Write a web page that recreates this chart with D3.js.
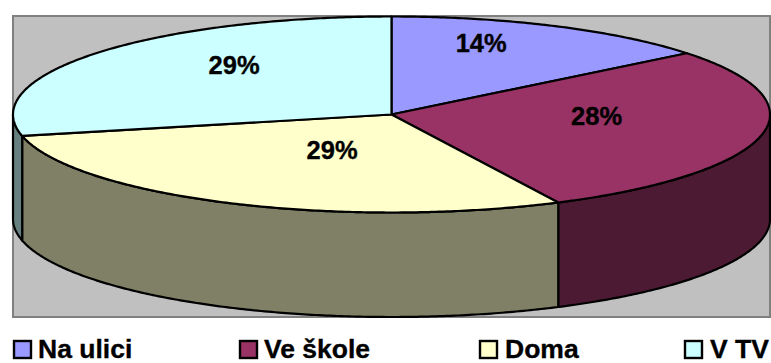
<!DOCTYPE html>
<html lang="en"><head>
<meta charset="utf-8">
<title>Pie</title>
<script src="https://cdnjs.cloudflare.com/ajax/libs/d3/7.8.5/d3.min.js"></script>
<style>
html,body{margin:0;padding:0;background:#fff;overflow:hidden}
text{font-family:"Liberation Sans",Arial,sans-serif;font-weight:bold;fill:#000;stroke:#000;stroke-width:0.35}
</style>
</head>
<body>
<svg id="chart" width="771" height="363"></svg>
<script>
// values
var categories = ["Na ulici", "Ve škole", "Doma", "V TV"];
var shares = [14.25, 28.49, 28.75, 28.51];
var topColors = ["#9999ff", "#993366", "#ffffcc", "#ccffff"];
var sideColors = ["#4d4d80", "#4d1a33", "#808066", "#668080"];

// layout
var cx = 391.5, cy = 114.5, rx = 378.5, ry = 98, depth = 104.5;
var legendSwatchX = [14, 240, 480, 685];
var legendTextX = [38, 264, 505, 710];
// label centre as fraction of the ellipse radii, from the pie centre
var labelOffset = [[0.237, -0.73], [0.542, 0.02], [-0.157, 0.36], [-0.416, -0.51]];

var svg = d3.select("#chart");

var pie = d3.pie().sort(null).value(function(d){ return d; });
var slices = pie(shares);
var total = d3.sum(shares);

// d3.pie angles: 0 at top, clockwise, same as the projected ellipse below
function pt(a, dy){
  return [cx + rx * Math.sin(a), cy - ry * Math.cos(a) + (dy || 0)];
}
function arcPoints(a0, a1, dy){
  var n = Math.max(2, Math.ceil((a1 - a0) / 0.01));
  return d3.range(n + 1).map(function(i){ return pt(a0 + (a1 - a0) * i / n, dy); });
}
var line = d3.line();

svg.append("rect")
  .attr("x", 13).attr("y", 16).attr("width", 757).attr("height", 301)
  .attr("fill", "#c0c0c0").attr("stroke", "#808080").attr("stroke-width", 2);

// side walls, only the front half of the ellipse shows
var frontStart = Math.PI / 2, frontEnd = Math.PI * 1.5;
slices.forEach(function(s, i){
  var a0 = Math.max(s.startAngle, frontStart), a1 = Math.min(s.endAngle, frontEnd);
  if (a1 <= a0) return;
  var pts = arcPoints(a0, a1, 0).concat(arcPoints(a0, a1, depth).reverse());
  svg.append("path")
    .attr("d", line(pts) + "Z")
    .attr("fill", sideColors[i])
    .attr("stroke", "#000").attr("stroke-width", 2.2).attr("stroke-linejoin", "round");
});

// top faces
svg.selectAll("path.top").data(slices).enter().append("path")
  .attr("class", "top")
  .attr("d", function(s){
    return line([[cx, cy]].concat(arcPoints(s.startAngle, s.endAngle, 0))) + "Z";
  })
  .attr("fill", function(s, i){ return topColors[i]; })
  .attr("stroke", "#000").attr("stroke-width", 2.2).attr("stroke-linejoin", "round");

// percent labels
svg.selectAll("text.pct").data(slices).enter().append("text")
  .attr("class", "pct")
  .attr("x", function(s, i){ return cx + rx * labelOffset[i][0]; })
  .attr("y", function(s, i){ return cy + ry * labelOffset[i][1]; })
  .attr("text-anchor", "middle").attr("dominant-baseline", "central")
  .attr("font-size", 25.5)
  .text(function(s){ return Math.round(s.value / total * 100) + "%"; });

// legend
categories.forEach(function(c, i){
  svg.append("rect")
    .attr("x", legendSwatchX[i]).attr("y", 341).attr("width", 17).attr("height", 17)
    .attr("fill", topColors[i]).attr("stroke", "#000").attr("stroke-width", 2.4);
  svg.append("text")
    .attr("x", legendTextX[i]).attr("y", 358)
    .attr("font-size", 26.5)
    .text(c);
});
</script>
</body></html>
